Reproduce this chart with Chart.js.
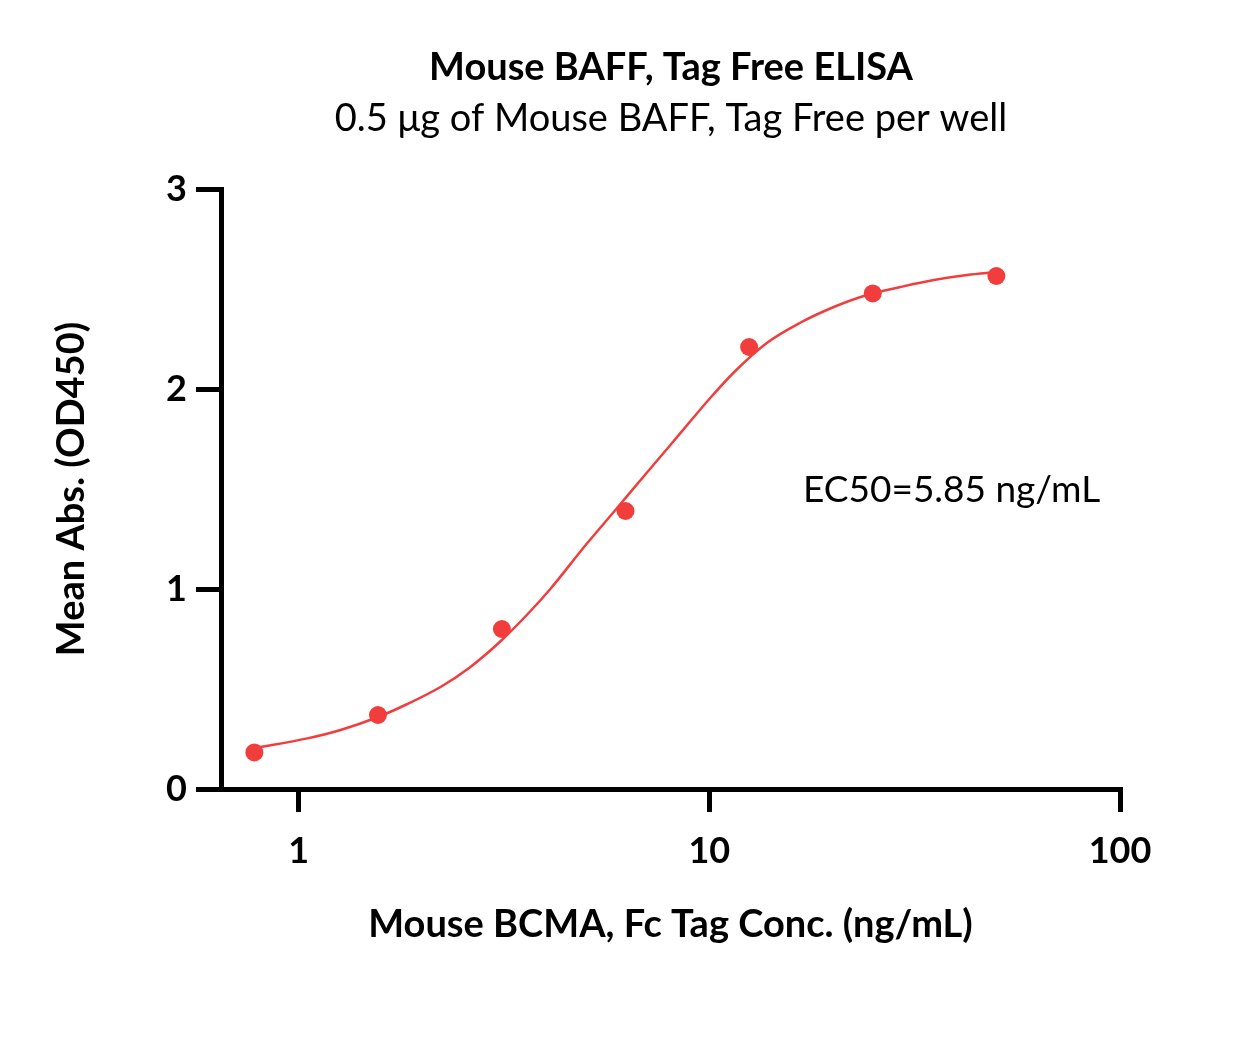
<!DOCTYPE html>
<html>
<head>
<meta charset="utf-8">
<title>Mouse BAFF, Tag Free ELISA</title>
<script src="https://cdn.jsdelivr.net/npm/chart.js@4.4.1/dist/chart.umd.min.js"></script>
<style>
  body { margin: 0; background: #fff; }
  #wrap { width: 1245px; height: 1044px; }
</style>
</head>
<body>
<div id="wrap"><canvas id="elisa-chart" width="1245" height="1044"></canvas></div>
<script>
// measured points (ng/mL vs OD450)
const concentrations = [0.78, 1.56, 3.125, 6.25, 12.5, 25, 50];
const meanAbs = [0.183, 0.37, 0.80, 1.39, 2.21, 2.478, 2.565];

// fitted curve
const fitConc = [0.78, 1.05, 1.265, 1.56, 1.84, 2.215, 2.6, 3.125, 3.67, 4.1, 5.0, 5.85, 7.0, 8.0, 9.0, 10, 11.5, 13.8, 16.6, 20.1, 24.2, 29.2, 35.2, 42.4, 50];
const fitAbs = [0.205, 0.253, 0.295, 0.36, 0.425, 0.51, 0.605, 0.745, 0.89, 1.0, 1.22, 1.385, 1.575, 1.715, 1.84, 1.95, 2.085, 2.23, 2.33, 2.41, 2.47, 2.51, 2.545, 2.57, 2.585];

const xTicks = [1, 10, 100];
const yTicks = [0, 1, 2, 3];

const red = '#F23D3D';

Chart.defaults.font.family = 'Lato';
Chart.defaults.color = '#000';

// title, subtitle and EC50 note
const textPlugin = {
  id: 'texts',
  afterDraw(chart) {
    const ctx = chart.ctx;
    ctx.save();
    ctx.fillStyle = '#000';
    ctx.textBaseline = 'middle';
    ctx.textAlign = 'center';
    ctx.font = 'bold 38px Lato';
    ctx.fillText('Mouse BAFF, Tag Free ELISA', 671, 68);
    ctx.font = '38px Lato';
    ctx.fillText('0.5 μg of Mouse BAFF, Tag Free per well', 671, 119);
    ctx.textAlign = 'left';
    ctx.font = '37px Lato';
    ctx.fillText('EC50=5.85 ng/mL', 803, 490);
    ctx.restore();
  }
};

const elisaCanvas = document.getElementById('elisa-chart');

let elisaChart = new Chart(elisaCanvas, {
  type: 'scatter',
  data: {
    datasets: [{
      label: 'Mean Abs.',
      data: concentrations.map((c, i) => ({ x: c, y: meanAbs[i] })),
      backgroundColor: red,
      borderColor: red,
      pointRadius: 9,
      pointHoverRadius: 9,
      borderWidth: 0,
      order: 1
    }, {
      label: 'Fit',
      data: fitConc.map((c, i) => ({ x: c, y: fitAbs[i] })),
      showLine: true,
      borderColor: red,
      borderWidth: 2.5,
      pointRadius: 0,
      cubicInterpolationMode: 'monotone',
      order: 2
    }]
  },
  options: {
    responsive: false,
    animation: false,
    layout: {
      padding: { left: 0, right: 125, top: 189, bottom: 0 }
    },
    scales: {
      x: {
        type: 'logarithmic',
        bounds: 'data',
        min: 0.647,
        max: 100,
        afterFit: (scale) => { scale.height = 255; },
        afterBuildTicks: (scale) => {
          scale.ticks = xTicks.map(v => ({ value: v }));
        },
        ticks: {
          callback: (v) => String(v),
          font: { size: 36, weight: 'bold' },
          padding: 18,
          maxRotation: 0,
          autoSkip: false
        },
        grid: {
          drawOnChartArea: false,
          drawTicks: true,
          tickLength: 23,
          tickWidth: 5,
          tickColor: '#000',
          lineWidth: 5,
          color: '#000'
        },
        border: { display: true, width: 5, color: '#000' },
        title: {
          display: true,
          text: 'Mouse BCMA, Fc Tag Conc. (ng/mL)',
          font: { size: 38, weight: 'bold' },
          padding: { top: 0, bottom: 96 }
        }
      },
      y: {
        min: 0,
        max: 3,
        afterFit: (scale) => { scale.width = 221; },
        afterBuildTicks: (scale) => {
          scale.ticks = yTicks.map(v => ({ value: v }));
        },
        ticks: {
          font: { size: 36, weight: 'bold' },
          padding: 9
        },
        grid: {
          drawOnChartArea: false,
          drawTicks: true,
          tickLength: 25,
          tickWidth: 5,
          tickColor: '#000',
          lineWidth: 5,
          color: '#000'
        },
        border: { display: true, width: 5, color: '#000' },
        title: {
          display: true,
          text: 'Mean Abs. (OD450)',
          font: { size: 38, weight: 'bold' },
          padding: { top: 49, bottom: 0 }
        }
      }
    },
    plugins: {
      legend: { display: false },
      tooltip: { enabled: false }
    }
  },
  plugins: [textPlugin]
});
</script>
</body>
</html>
